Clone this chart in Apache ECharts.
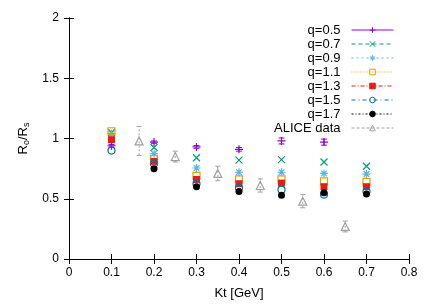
<!DOCTYPE html>
<html><head><meta charset="utf-8">
<script src="https://cdn.jsdelivr.net/npm/echarts@6/dist/echarts.min.js"></script>
<style>html,body{margin:0;padding:0;background:#fff}#c{width:436px;height:305px}</style>
</head><body><div id="c"></div>
<script>
const kt = [0.1, 0.2, 0.3, 0.4, 0.5, 0.6, 0.7];
const q05 = [0.94, 0.97, 0.93, 0.91, 0.98, 0.97, null];
const q07 = [1.05, 0.925, 0.84, 0.82, 0.825, 0.805, 0.77];
const q09 = [1.04, 0.875, 0.755, 0.72, 0.72, 0.71, 0.705];
const q11 = [1.06, 0.83, 0.69, 0.66, 0.66, 0.645, 0.64];
const q13 = [0.99, 0.81, 0.66, 0.625, 0.63, 0.60, 0.60];
const q15 = [0.90, 0.79, 0.625, 0.59, 0.575, 0.535, 0.56];
const q17 = [null, 0.75, 0.60, 0.56, 0.53, 0.55, 0.54];
const q05err = [0.01, 0.01, 0.012, 0.015, 0.025, 0.025, null];
const aliceKt = [0.165, 0.25, 0.35, 0.45, 0.55, 0.65];
const aliceR = [0.98, 0.85, 0.71, 0.61, 0.48, 0.27];
const aliceErr = [0.12, 0.045, 0.06, 0.055, 0.055, 0.045];
const xTicks = [0, 0.1, 0.2, 0.3, 0.4, 0.5, 0.6, 0.7, 0.8];
const yTicks = [0, 0.5, 1, 1.5, 2];
const names = ['q=0.5','q=0.7','q=0.9','q=1.1','q=1.3','q=1.5','q=1.7','ALICE data'];

const FONT = 'Liberation Sans';
const P = {
  plus: 'path://M0,5L10,5M5,0L5,10',
  cross: 'path://M0,0L10,10M10,0L0,10',
  star: 'path://M0,5L10,5M5,0L5,10M1.5,1.5L8.5,8.5M8.5,1.5L1.5,8.5',
  tri: 'path://M5,0L10,9L0,9Z'
};
function pts(xs, ys){ const o=[]; xs.forEach((x,i)=>{ if(ys[i]!=null) o.push([x,ys[i]]); }); return o; }

const cfg = [
  {d:q05, color:'#9400d3', sym:P.plus, size:8, fill:false, dash:'solid'},
  {d:q07, color:'#009e73', sym:P.cross, size:7, fill:false, dash:[4,3]},
  {d:q09, color:'#56b4e9', sym:P.star, size:8, fill:false, dash:[2,3]},
  {d:q11, color:'#e69f00', sym:'rect', size:7, fill:false, dash:[1,2]},
  {d:q13, color:'#e51e10', sym:'rect', size:7, fill:true, dash:[4,2,1,2]},
  {d:q15, color:'#0072b2', sym:'circle', size:7, fill:false, dash:[4,3,1,3]},
  {d:q17, color:'#000000', sym:'circle', size:7, fill:true, dash:[2,2,1,2]},
  {d:null, color:'#a0a0a0', sym:P.tri, size:8, fill:false, dash:[3,2]}
];

const series = [];
function errSeries(xs, ys, es, color, dash, cap){
  const data = [];
  xs.forEach((x,i)=>{ if(ys[i]!=null && es[i]!=null) data.push([x, ys[i]-es[i], ys[i]+es[i]]); });
  return {
    type:'custom', silent:true, z:1, data,
    renderItem:(params, api)=>{
      const lo = api.coord([api.value(0), api.value(1)]);
      const hi = api.coord([api.value(0), api.value(2)]);
      const st = {stroke:color, lineWidth:1, lineDash: dash};
      return {type:'group', children:[
        {type:'line', shape:{x1:lo[0],y1:lo[1],x2:hi[0],y2:hi[1]}, style:st},
        {type:'line', shape:{x1:lo[0]-cap,y1:lo[1],x2:lo[0]+cap,y2:lo[1]}, style:{stroke:color,lineWidth:1}},
        {type:'line', shape:{x1:hi[0]-cap,y1:hi[1],x2:hi[0]+cap,y2:hi[1]}, style:{stroke:color,lineWidth:1}}
      ]};
    }
  };
}
series.push(errSeries(kt, q05, q05err, '#9400d3', null, 3));
series.push(errSeries(aliceKt, aliceR, aliceErr, '#a0a0a0', [2,2], 2.5));

cfg.forEach((c, i)=>{
  const data = i < 7 ? pts(kt, c.d) : pts(aliceKt, aliceR);
  series.push({
    name: names[i], type:'line', data, z: 2+i,
    symbol: c.sym, symbolSize: c.size, showAllSymbol:true,
    lineStyle:{opacity:0},
    itemStyle:{color: c.fill ? c.color : 'rgba(0,0,0,0)', borderColor:c.color, borderWidth: c.fill?0:1.2},
    emphasis:{disabled:true}, animation:false
  });
});

const chart = echarts.init(document.getElementById('c'), null, {renderer:'canvas'});
const axisCommon = {
  axisLine:{show:true, lineStyle:{color:'#000', width:1}},
  axisTick:{show:true, inside:true, length:5, lineStyle:{color:'#000'}},
  splitLine:{show:false}
};
chart.setOption({
  animation:false,
  backgroundColor:'#fff',
  textStyle:{fontFamily:FONT},
  grid:{left:69, right:27, top:18, bottom:46, containLabel:false},
  legend:{
    right:37, top:18, orient:'vertical', align:'right',
    itemWidth:42, itemHeight:7, itemGap:0,
    textStyle:{fontFamily:FONT, fontSize:13, color:'#000', lineHeight:14, height:14, padding:[0,6,0,0]},
    data: names.map((n,i)=>({name:n, lineStyle:{color:cfg[i].color, width:1, type:cfg[i].dash, opacity:1}, itemStyle:{borderWidth:1}})),
    selectedMode:false
  },
  xAxis:[
    Object.assign({type:'value', min:0, max:0.8, interval:0.1, name:'Kt [GeV]', nameLocation:'middle', nameGap:28,
      nameTextStyle:{fontFamily:FONT, fontSize:13, color:'#000'},
      axisLabel:{color:'#000', fontFamily:FONT, fontSize:12, margin:8,
        formatter:v=>{ const t=xTicks.find(a=>Math.abs(a-v)<1e-6); return t===undefined?'':String(t); }}}, axisCommon),
    Object.assign({type:'value', min:0, max:0.8, interval:0.1, position:'top', axisLabel:{show:false}}, axisCommon)
  ],
  yAxis:[
    Object.assign({type:'value', min:0, max:2, interval:0.5, name:'{a|R}{s|o}{a|/R}{s|s}', nameLocation:'middle', nameGap:34, nameRotate:90,
      nameTextStyle:{color:'#000', rich:{a:{fontFamily:FONT, fontSize:13, color:'#000', lineHeight:16}, s:{fontFamily:FONT, fontSize:9, color:'#000', lineHeight:16, padding:[7,0,0,0]}}},
      axisLabel:{color:'#000', fontFamily:FONT, fontSize:12, margin:10,
        formatter:v=>{ const t=yTicks.find(a=>Math.abs(a-v)<1e-6); return t===undefined?'':String(t); }}}, axisCommon),
    Object.assign({type:'value', min:0, max:2, interval:0.5, position:'right', axisLabel:{show:false}}, axisCommon)
  ],
  series
});
</script></body></html>
